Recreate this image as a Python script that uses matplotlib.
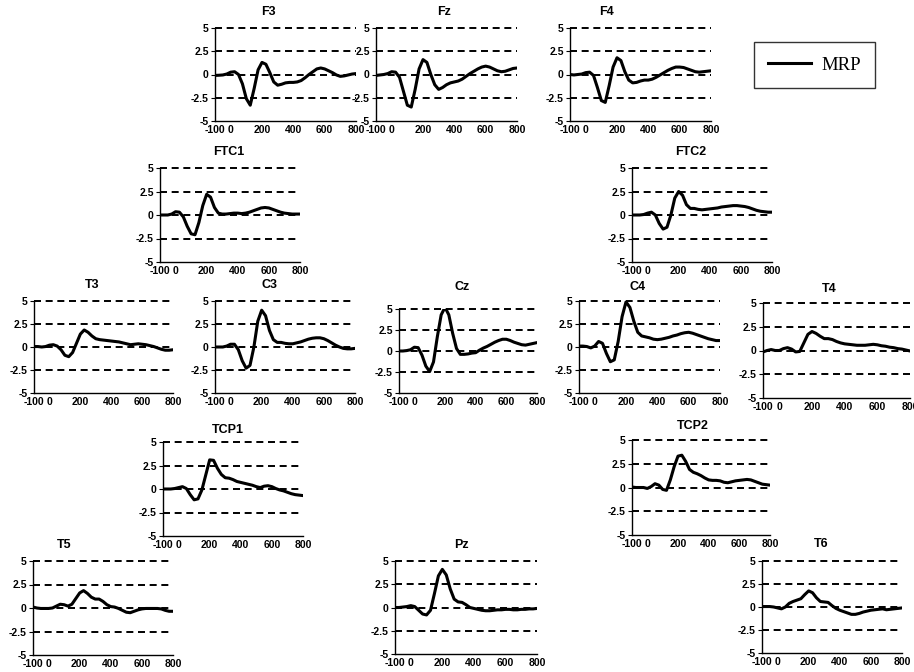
import matplotlib
matplotlib.use('Agg')
import matplotlib.pyplot as plt
from matplotlib.lines import Line2D

# ---------------- data (µV), sampled every 25 ms from -100 to 800 ----------------
times = list(range(-100, 801, 25))

F3 = [-0.1, -0.08, -0.05, 0.05, 0.25, 0.3, 0.0, -1.0, -2.6, -3.3, -1.5, 0.5, 1.3, 1.1, 0.2, -0.8,
      -1.15, -1.05, -0.9, -0.85, -0.85, -0.8, -0.65, -0.35, 0.0, 0.3, 0.6, 0.7, 0.6, 0.4, 0.2,
      -0.05, -0.2, -0.15, -0.05, 0.05, 0.1]
Fz = [-0.1, -0.05, 0.0, 0.1, 0.3, 0.25, -0.3, -1.8, -3.3, -3.5, -1.6, 0.6, 1.6, 1.3, 0.0, -1.1,
      -1.6, -1.4, -1.1, -0.9, -0.8, -0.7, -0.5, -0.2, 0.1, 0.35, 0.6, 0.8, 0.9, 0.8, 0.6,
      0.4, 0.3, 0.35, 0.5, 0.65, 0.7]
F4 = [0.0, -0.05, 0.0, 0.05, 0.2, 0.25, -0.1, -1.4, -2.8, -3.0, -1.2, 0.8, 1.8, 1.5, 0.3, -0.6,
      -0.9, -0.85, -0.7, -0.6, -0.6, -0.5, -0.3, -0.05, 0.2, 0.45, 0.65, 0.8, 0.8, 0.75, 0.6,
      0.45, 0.3, 0.25, 0.3, 0.35, 0.4]
FTC1 = [0.0, 0.0, 0.0, 0.1, 0.35, 0.3, -0.2, -1.2, -2.0, -2.1, -0.8, 1.0, 2.2, 1.9, 0.8, 0.2,
        0.1, 0.1, 0.15, 0.2, 0.2, 0.15, 0.2, 0.3, 0.45, 0.6, 0.75, 0.8, 0.75, 0.6, 0.45,
        0.3, 0.2, 0.15, 0.1, 0.1, 0.1]
FTC2 = [0.0, 0.0, 0.0, 0.05, 0.2, 0.3, 0.0, -0.9, -1.5, -1.3, 0.0, 1.8, 2.5, 2.1, 1.1, 0.7,
        0.7, 0.6, 0.55, 0.6, 0.65, 0.7, 0.75, 0.85, 0.9, 0.95, 1.0, 1.0, 0.95, 0.9, 0.8,
        0.65, 0.5, 0.4, 0.35, 0.3, 0.3]
T3 = [0.05, 0.05, 0.0, 0.05, 0.2, 0.25, 0.1, -0.3, -0.9, -1.05, -0.6, 0.4, 1.4, 1.85, 1.6, 1.2,
      0.9, 0.8, 0.75, 0.7, 0.65, 0.6, 0.55, 0.45, 0.35, 0.25, 0.3, 0.35, 0.3, 0.25, 0.15,
      0.05, -0.1, -0.25, -0.35, -0.35, -0.3]
C3 = [0.0, 0.0, 0.0, 0.1, 0.3, 0.3, -0.3, -1.5, -2.3, -2.0, 0.0, 2.8, 4.0, 3.4, 1.8, 0.8,
      0.5, 0.5, 0.4, 0.35, 0.35, 0.45, 0.55, 0.7, 0.85, 0.95, 1.0, 1.0, 0.9, 0.7, 0.45,
      0.2, 0.0, -0.15, -0.2, -0.2, -0.15]
Cz = [0.0, 0.0, 0.05, 0.15, 0.45, 0.4, -0.5, -1.8, -2.45, -1.3, 1.7, 4.3, 5.2, 4.3, 2.1, 0.3,
      -0.4, -0.4, -0.35, -0.25, -0.2, 0.1, 0.35, 0.55, 0.8, 1.05, 1.25, 1.4, 1.4, 1.25, 1.05,
      0.9, 0.75, 0.7, 0.8, 0.9, 1.0]
C4 = [0.1, 0.1, 0.05, -0.1, 0.1, 0.6, 0.4, -0.7, -1.6, -1.4, 0.6, 3.3, 4.9, 4.3, 2.8, 1.6,
      1.2, 1.1, 1.0, 0.85, 0.8, 0.85, 0.95, 1.05, 1.2, 1.3, 1.45, 1.55, 1.6, 1.5, 1.35,
      1.2, 1.05, 0.9, 0.8, 0.7, 0.7]
T4 = [-0.15, 0.0, 0.1, 0.0, 0.0, 0.2, 0.3, 0.15, -0.15, -0.1, 0.8, 1.7, 2.0, 1.8, 1.5, 1.25,
      1.25, 1.15, 0.95, 0.8, 0.7, 0.65, 0.6, 0.55, 0.55, 0.55, 0.6, 0.65, 0.6, 0.5, 0.45,
      0.35, 0.3, 0.2, 0.15, 0.05, -0.05]
TCP1 = [0.0, 0.0, 0.0, 0.05, 0.15, 0.25, 0.05, -0.6, -1.15, -1.05, -0.1, 1.5, 3.1, 3.05, 2.2, 1.55,
        1.2, 1.15, 1.0, 0.8, 0.7, 0.6, 0.5, 0.4, 0.25, 0.15, 0.3, 0.35, 0.25, 0.05, -0.1,
        -0.2, -0.35, -0.5, -0.6, -0.65, -0.7]
TCP2 = [0.05, 0.0, 0.0, 0.0, -0.1, 0.1, 0.4, 0.25, -0.2, -0.3, 0.8, 2.2, 3.3, 3.4, 2.75, 1.9,
        1.6, 1.45, 1.25, 1.0, 0.8, 0.75, 0.75, 0.7, 0.55, 0.5, 0.6, 0.7, 0.75, 0.8, 0.85,
        0.8, 0.65, 0.5, 0.35, 0.3, 0.25]
T5 = [0.1, 0.0, -0.05, -0.05, -0.05, 0.0, 0.2, 0.4, 0.35, 0.2, 0.4, 1.0, 1.6, 1.85, 1.55, 1.15,
      0.95, 0.95, 0.7, 0.35, 0.15, 0.1, -0.05, -0.25, -0.45, -0.5, -0.35, -0.2, -0.1, -0.05, -0.05,
      -0.05, -0.05, -0.1, -0.25, -0.35, -0.35]
Pz = [0.0, 0.0, 0.05, 0.1, 0.2, 0.1, -0.3, -0.7, -0.8, -0.3, 1.5, 3.4, 4.1, 3.5, 2.0, 0.9,
      0.6, 0.55, 0.3, 0.0, -0.1, -0.2, -0.3, -0.35, -0.35, -0.3, -0.25, -0.25, -0.2, -0.2, -0.25,
      -0.25, -0.2, -0.2, -0.15, -0.15, -0.1]
T6 = [0.05, 0.05, 0.05, 0.0, -0.1, -0.2, 0.0, 0.4, 0.6, 0.75, 0.9, 1.35, 1.75, 1.55, 1.0, 0.6,
      0.55, 0.5, 0.15, -0.15, -0.35, -0.5, -0.65, -0.8, -0.8, -0.7, -0.55, -0.45, -0.35, -0.3, -0.25,
      -0.2, -0.3, -0.25, -0.2, -0.15, -0.1]

series = {'F3': F3, 'Fz': Fz, 'F4': F4, 'FTC1': FTC1, 'FTC2': FTC2,
          'T3': T3, 'C3': C3, 'Cz': Cz, 'C4': C4, 'T4': T4,
          'TCP1': TCP1, 'TCP2': TCP2, 'T5': T5, 'Pz': Pz, 'T6': T6}

x_ticks = [-100, 0, 200, 400, 600, 800]
x_ticklabels = ['-100', '0', '200', '400', '600', '800']
y_ticks = [-5, -2.5, 0, 2.5, 5]
y_ticklabels = ['-5', '-2.5', '0', '2.5', '5']
dashed_levels = [5, 2.5, 0, -2.5]
legend_label = 'MRP'

# ---------------- layout (pixel boxes: left, top, right, bottom; title x, y) ----------------
W, H = 914, 672
layout = {
    'F3':   (215, 28, 356, 121, 268, 12),
    'Fz':   (376, 28, 517, 121, 444, 12),
    'F4':   (570, 28, 711, 121, 607, 12),
    'FTC1': (160, 168, 300, 262, 229, 152),
    'FTC2': (632, 168, 772, 262, 691, 152),
    'T3':   (34, 301, 173, 393, 92, 285),
    'C3':   (215, 301, 355, 393, 269, 285),
    'Cz':   (399, 309, 537, 393, 462, 287),
    'C4':   (579, 301, 720, 393, 638, 287),
    'T4':   (763, 303, 910, 398, 829, 289),
    'TCP1': (163, 442, 303, 536, 228, 430),
    'TCP2': (632, 440, 770, 535, 693, 426),
    'T5':   (33, 561, 173, 655, 64, 545),
    'Pz':   (395, 561, 537, 654, 461, 545),
    'T6':   (762, 561, 902, 653, 821, 544),
}

fig = plt.figure(figsize=(W / 100, H / 100), dpi=100)
fig.patch.set_facecolor('white')
tick_font = dict(family='Liberation Sans', weight='bold', size=7.5)

for name, vals in series.items():
    l, t, r, b, tx, ty = layout[name]
    ax = fig.add_axes([l / W, 1 - b / H, (r - l) / W, (b - t) / H])
    ax.set_xlim(-100, 800)
    ax.set_ylim(-5, 5)
    for lev in dashed_levels:
        ax.axhline(lev, color='black', lw=1.4, ls=(0, (3.6, 2.4)), clip_on=False, zorder=1)
    ax.plot(times, vals, color='black', lw=2.2, zorder=3, solid_capstyle='round',
            solid_joinstyle='round')
    for s in ('top', 'right'):
        ax.spines[s].set_visible(False)
    for s in ('left', 'bottom'):
        ax.spines[s].set_linewidth(1.0)
    ax.set_xticks(x_ticks)
    ax.set_xticklabels(x_ticklabels, fontdict=tick_font)
    ax.set_yticks(y_ticks)
    ax.set_yticklabels(y_ticklabels, fontdict=tick_font)
    ax.tick_params(axis='x', length=0, pad=3)
    ax.tick_params(axis='y', length=3, width=0.8, pad=1.5)
    ax.patch.set_alpha(0)
    fig.text(tx / W, 1 - ty / H, name, ha='center', va='center',
             family='Liberation Sans', weight='bold', fontsize=9)

leg = fig.legend([Line2D([0], [0], color='black', lw=2.2)], [legend_label],
                 loc='center', bbox_to_anchor=(814.5 / W, 1 - 65 / H),
                 prop=dict(family='Liberation Serif', size=13.5),
                 frameon=True, fancybox=False, edgecolor='black',
                 handlelength=2.3, handletextpad=0.55, borderpad=0.75)
leg.get_frame().set_linewidth(1.0)

fig.savefig('out.png', dpi=100, facecolor='white')
